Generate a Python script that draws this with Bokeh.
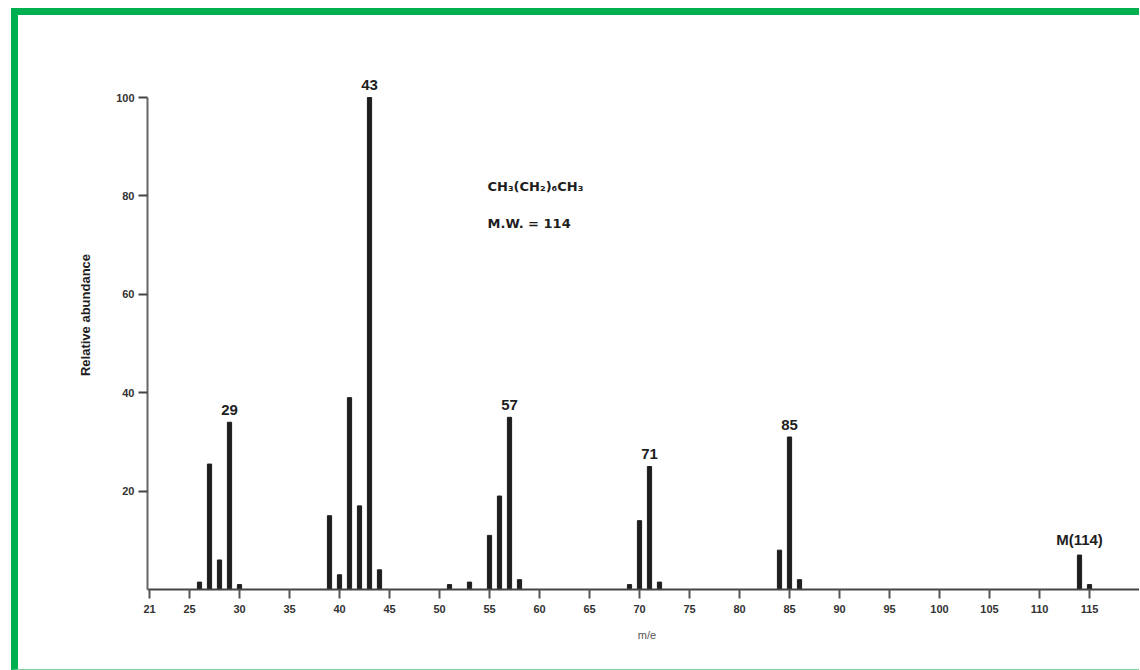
from bokeh.plotting import figure
from bokeh.models import FixedTicker, Label, ColumnDataSource
from bokeh.core.properties import value
from bokeh.embed import file_html
from bokeh.resources import INLINE

# m/z values and relative abundances (octane spectrum)
mz = [26, 27, 28, 29, 30, 39, 40, 41, 42, 43, 44, 51, 53, 55, 56, 57, 58,
      69, 70, 71, 72, 84, 85, 86, 114, 115]
abundance = [1.5, 25.5, 6, 34, 1, 15, 3, 39, 17, 100, 4, 1, 1.5, 11, 19, 35, 2,
             1, 14, 25, 1.5, 8, 31, 2, 7, 1]

peak_mz = [29, 43, 57, 71, 85, 114]
peak_abund = [34, 100, 35, 25, 31, 7]
peak_labels = ["29", "43", "57", "71", "85", "M(114)"]

x_ticks = [21, 25, 30, 35, 40, 45, 50, 55, 60, 65, 70, 75, 80, 85, 90, 95, 100, 105, 110, 115]
y_ticks = [20, 40, 60, 80, 100]

formula = "CH\u2083(CH\u2082)\u2086CH\u2083"
mw_text = "M.W. = 114"

FONT = "Liberation Sans"
INK = "#1e1e1e"

p = figure(width=1128, height=662, output_backend="svg", toolbar_location=None,
           x_range=(20.8, 120.7), y_range=(0, 111.6),
           min_border_left=129, min_border_right=0, min_border_top=25, min_border_bottom=88)
p.styles = {"margin-left": "11px", "margin-top": "8px",
            "border-top": "7px solid #00b050", "border-left": "7px solid #00b050",
            "border-bottom": "1px solid #7fcf9f"}
p.outline_line_color = None
p.xgrid.visible = False
p.ygrid.visible = False
p.background_fill_color = "white"

src = ColumnDataSource(dict(x=mz, top=abundance))
p.vbar(x="x", top="top", bottom=0, width=0.42, source=src, color=INK)

lsrc = ColumnDataSource(dict(x=peak_mz, y=[v + 1.5 for v in peak_abund], t=peak_labels))
p.text(x="x", y="y", text="t", source=lsrc, text_align="center", text_baseline="bottom",
       text_font=value(FONT), text_font_size="15px", text_font_style="bold", text_color=INK)

p.add_layout(Label(x=54.8, y=82, text=formula, text_font="DejaVu Sans", text_font_size="13px",
                   text_font_style="bold", text_color=INK, text_baseline="middle"))
p.add_layout(Label(x=54.8, y=74.5, text=mw_text, text_font="DejaVu Sans", text_font_size="13px",
                   text_font_style="bold", text_color=INK, text_baseline="middle"))

xa = p.xaxis[0]
xa.ticker = FixedTicker(ticks=x_ticks)
xa.major_label_overrides = {t: str(t) for t in x_ticks}
xa.axis_label = "m/e"
xa.axis_label_text_font = FONT
xa.axis_label_text_font_size = "11px"
xa.axis_label_text_font_style = "normal"
xa.axis_label_text_color = "#555"
xa.axis_label_standoff = 13
xa.major_label_text_font = FONT
xa.major_label_text_font_size = "11px"
xa.major_label_text_font_style = "bold"
xa.major_label_text_color = "#333"
xa.major_label_standoff = 6
xa.major_tick_in = 0
xa.major_tick_out = 9
xa.minor_tick_line_color = None
xa.axis_line_color = "#444"
xa.axis_line_width = 2
xa.major_tick_line_color = "#555"
xa.major_tick_line_width = 2

ya = p.yaxis[0]
ya.ticker = FixedTicker(ticks=y_ticks)
ya.bounds = (0, 100)
ya.axis_label = "Relative abundance"
ya.axis_label_text_font = FONT
ya.axis_label_text_font_size = "13px"
ya.axis_label_text_font_style = "bold"
ya.axis_label_text_color = INK
ya.axis_label_standoff = 20
ya.major_label_text_font = FONT
ya.major_label_text_font_size = "11px"
ya.major_label_text_font_style = "bold"
ya.major_label_text_color = "#333"
ya.major_label_standoff = 4
ya.major_tick_in = 0
ya.major_tick_out = 9
ya.minor_tick_line_color = None
ya.axis_line_color = "#666"
ya.axis_line_width = 2
ya.major_tick_line_color = "#444"
ya.major_tick_line_width = 2

open("out.html", "w").write(file_html(p, INLINE))
